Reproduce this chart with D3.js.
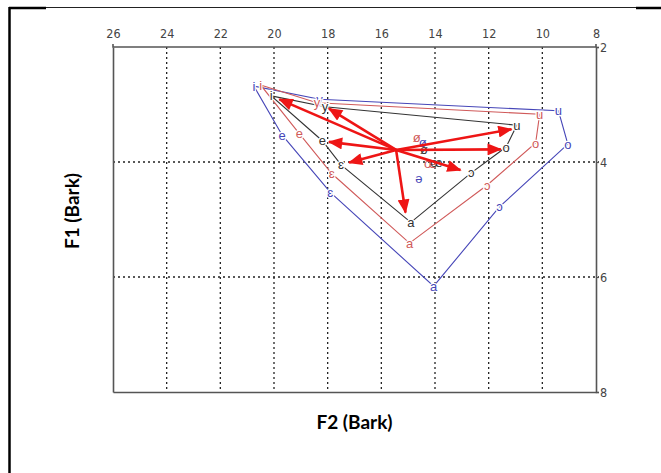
<!DOCTYPE html>
<html>
<head>
<meta charset="utf-8">
<script src="https://cdn.jsdelivr.net/npm/d3@7"></script>
<style>
body { margin: 0; background: #fff; }
</style>
</head>
<body>
<div id="chart"></div>
<script>
// vowel order along each polygon
var vowels = ["i", "y", "u", "o", "ɔ", "a", "ɛ", "e"];

// F2 / F1 in Bark
var blackF2 = [20.1, 18.1, 10.95, 11.35, 12.65, 14.9, 17.5, 18.2];
var blackF1 = [2.85, 3.04, 3.36, 3.74, 4.19, 5.05, 4.05, 3.63];
var redF2 = [20.5, 18.4, 10.1, 10.25, 12.05, 14.95, 17.85, 19.05];
var redF1 = [2.66, 2.97, 3.17, 3.67, 4.4, 5.41, 4.2, 3.51];
var blueF2 = [20.75, 18.3, 9.4, 9.05, 11.6, 14.05, 17.9, 19.7];
var blueF1 = [2.68, 2.91, 3.11, 3.69, 4.78, 6.16, 4.53, 3.53];

// vowels not on the polygons
var extraLabels = ["ø", "ø", "ø", "œ", "œ", "ə"];
var extraSeries = ["red", "blue", "black", "red", "black", "blue"];
var extraF2 = [14.68, 14.46, 14.41, 14.18, 13.95, 14.6];
var extraF1 = [3.58, 3.66, 3.79, 4.02, 4.0, 4.28];

// arrows from the centre to the black vowels
var arrowFrom = [15.45, 3.79];
var arrowF2 = [19.8, 17.95, 17.95, 17.2, 15.1, 13.05, 11.55, 11.15];
var arrowF1 = [2.91, 3.07, 3.65, 4.01, 4.88, 4.14, 3.78, 3.43];

var xTicks = [26, 24, 22, 20, 18, 16, 14, 12, 10, 8];
var yTicks = [2, 4, 6, 8];

var colors = { black: "#333333", red: "#d05a5a", blue: "#4646b8" };

var W = 661, H = 473;
var svg = d3.select("#chart").append("svg")
  .attr("width", W).attr("height", H);

// outer frame (cropped picture border)
svg.append("line").attr("x1", 9.5).attr("x2", 9.5).attr("y1", 7).attr("y2", H)
  .attr("stroke", "#000").attr("stroke-width", 2.5);
svg.append("line").attr("x1", 9).attr("x2", 46).attr("y1", 8).attr("y2", 8)
  .attr("stroke", "#000").attr("stroke-width", 2.5);
svg.append("line").attr("x1", 46).attr("x2", 636).attr("y1", 7.5).attr("y2", 7.5)
  .attr("stroke", "#222").attr("stroke-width", 1.2);
svg.append("line").attr("x1", 636).attr("x2", W).attr("y1", 8).attr("y2", 8)
  .attr("stroke", "#000").attr("stroke-width", 2.5);

var x = d3.scaleLinear().domain([26, 8]).range([113, 596]);
var y = d3.scaleLinear().domain([2, 8]).range([47, 392]);

// dashed grid
svg.selectAll(".vgrid")
  .data(xTicks.slice(1, -1))
  .enter().append("line")
  .attr("x1", function(d) { return x(d); })
  .attr("x2", function(d) { return x(d); })
  .attr("y1", y(2)).attr("y2", y(8))
  .attr("stroke", "#222").attr("stroke-width", 1.3)
  .attr("stroke-dasharray", "2,3");
svg.selectAll(".hgrid")
  .data(yTicks.slice(1, -1))
  .enter().append("line")
  .attr("x1", x(26)).attr("x2", x(8) + 3)
  .attr("y1", function(d) { return y(d); })
  .attr("y2", function(d) { return y(d); })
  .attr("stroke", "#222").attr("stroke-width", 1.3)
  .attr("stroke-dasharray", "2,3");

// axes frame
var axTop = d3.axisTop(x).tickValues(xTicks).tickSize(0).tickPadding(9).tickFormat(d3.format("d"));
var gTop = svg.append("g").attr("transform", "translate(0," + y(2) + ")").call(axTop);
var axRight = d3.axisRight(y).tickValues(yTicks).tickSize(3).tickPadding(1).tickFormat(d3.format("d"));
var gRight = svg.append("g").attr("transform", "translate(" + x(8) + ",0)").call(axRight);
var axBottom = d3.axisBottom(x).tickValues([]).tickSize(0);
var gBottom = svg.append("g").attr("transform", "translate(0," + y(8) + ")").call(axBottom);
var axLeft = d3.axisLeft(y).tickValues([]).tickSize(0);
var gLeft = svg.append("g").attr("transform", "translate(" + x(26) + ",0)").call(axLeft);

[gTop, gRight, gBottom, gLeft].forEach(function(g) {
  g.select(".domain").attr("stroke", "#555").attr("stroke-width", 1.6);
  g.selectAll(".tick line").attr("stroke", "#555").attr("stroke-width", 1.2);
  g.selectAll("text")
    .attr("fill", "#444")
    .style("font-family", "'Liberation Sans Narrow', 'DejaVu Sans Condensed', 'Liberation Sans', sans-serif")
    .style("font-size", "12.5px");
});
gTop.select(".domain").attr("d", "M" + x(26) + ",-3V0H" + x(8) + "V-3");
gRight.selectAll("text").attr("dy", "0.36em");

// polygons
var series = [
  { name: "blue", f2: blueF2, f1: blueF1 },
  { name: "red", f2: redF2, f1: redF1 },
  { name: "black", f2: blackF2, f1: blackF1 }
];

var line = d3.line()
  .x(function(d) { return x(d[0]); })
  .y(function(d) { return y(d[1]); })
  .curve(d3.curveLinearClosed);

series.forEach(function(s) {
  var pts = vowels.map(function(v, i) { return [s.f2[i], s.f1[i]]; });
  svg.append("path")
    .attr("d", line(pts))
    .attr("fill", "none")
    .attr("stroke", colors[s.name])
    .attr("stroke-width", 1.1);
});

// arrow head
svg.append("defs").append("marker")
  .attr("id", "head")
  .attr("markerUnits", "userSpaceOnUse")
  .attr("viewBox", "0 0 12 10")
  .attr("refX", 11).attr("refY", 5)
  .attr("markerWidth", 15).attr("markerHeight", 12)
  .attr("orient", "auto")
  .append("path")
  .attr("d", "M0,0L12,5L0,10Z")
  .attr("fill", "#ee1515");

// labels
var labelFont = "'Liberation Sans', 'DejaVu Sans', sans-serif";
series.forEach(function(s) {
  svg.selectAll(".lab-" + s.name)
    .data(vowels)
    .enter().append("text")
    .attr("x", function(d, i) { return x(s.f2[i]); })
    .attr("y", function(d, i) { return y(s.f1[i]); })
    .attr("dy", "0.35em")
    .attr("text-anchor", "middle")
    .attr("fill", colors[s.name])
    .attr("stroke", "#fff").attr("stroke-width", 2.5)
    .attr("paint-order", "stroke")
    .style("font-family", labelFont)
    .style("font-size", "13px")
    .text(function(d) { return d; });
});

svg.selectAll(".extra")
  .data(extraLabels)
  .enter().append("text")
  .attr("x", function(d, i) { return x(extraF2[i]); })
  .attr("y", function(d, i) { return y(extraF1[i]); })
  .attr("dy", "0.35em")
  .attr("text-anchor", "middle")
  .attr("fill", function(d, i) { return colors[extraSeries[i]]; })
  .style("font-family", labelFont)
  .style("font-size", "13px")
  .text(function(d) { return d; });

// red arrows
svg.selectAll(".arrow")
  .data(arrowF2)
  .enter().append("line")
  .attr("x1", x(arrowFrom[0])).attr("y1", y(arrowFrom[1]))
  .attr("x2", function(d) { return x(d); })
  .attr("y2", function(d, i) { return y(arrowF1[i]); })
  .attr("stroke", "#ee1515")
  .attr("stroke-width", 2.6)
  .attr("marker-end", "url(#head)");

// axis titles
svg.append("text")
  .attr("x", x(17)).attr("y", 422)
  .attr("dy", "0.35em")
  .attr("text-anchor", "middle")
  .style("font-family", "Lato, 'Open Sans', sans-serif")
  .style("font-weight", "bold")
  .style("font-size", "19px")
  .text("F2 (Bark)");

svg.append("text")
  .attr("transform", "translate(72,211) rotate(-90)")
  .attr("dy", "0.35em")
  .attr("text-anchor", "middle")
  .style("font-family", "Lato, 'Open Sans', sans-serif")
  .style("font-weight", "bold")
  .style("font-size", "19px")
  .text("F1 (Bark)");
</script>
</body>
</html>
